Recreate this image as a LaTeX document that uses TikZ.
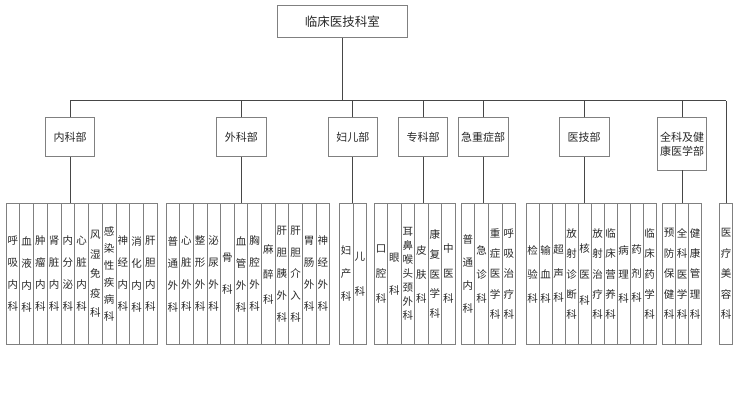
\documentclass[tikz,border=0pt]{standalone}
\usepackage{fontspec}
\newfontfamily\cjk{Noto Sans CJK SC}
\ExplSyntaxOn
\seq_new:N \l_my_chars_seq
\cs_new_protected:Npn \my_vstack:n #1
  {
    \seq_clear:N \l_my_chars_seq
    \tl_map_inline:nn {#1} { \seq_put_right:Nn \l_my_chars_seq {##1} }
    \seq_use:Nn \l_my_chars_seq {\\}
  }
\NewDocumentCommand \vstack {m} { \exp_args:No \my_vstack:n {#1} }
\ExplSyntaxOff
\definecolor{boxline}{RGB}{128,128,128}
\definecolor{conline}{RGB}{70,70,70}
\definecolor{txt}{RGB}{40,40,40}
\tikzset{
  box/.style={draw=boxline, line width=0.7pt, fill=white, inner sep=0pt, text=txt, align=center},
  topbox/.style={box, minimum width=130.7, minimum height=31.6, font=\cjk\fontsize{12.5}{15}\selectfont},
  deptbox/.style={box, minimum width=49.3, minimum height=39, font=\cjk\fontsize{11}{14}\selectfont},
  colbox/.style={box, minimum height=141},
  conn/.style={draw=conline, line width=0.7pt},
}
\begin{document}
\begin{tikzpicture}[x=1pt, y=-1pt]
\useasboundingbox (0,0) rectangle (737,419);

% top
\node[topbox] (top) at (342.35,21.5) {临床医技科室};

% level 2
\node[deptbox] (nk) at (70,137.2) {内科部};
\node[deptbox] (wk) at (241.3,137.2) {外科部};
\node[deptbox] (fe) at (352.8,137.2) {妇儿部};
\node[deptbox] (zk) at (423,137.2) {专科部};
\node[deptbox] (jz) at (483.2,137.2) {急重症部};
\node[deptbox] (yj) at (584.2,137.2) {医技部};
\node[deptbox, minimum height=52.3] (qk) at (682,143.85) {全科及健\\康医学部};

% level 3 columns
\foreach \t/\s [count=\i] in {呼吸内科/22,血液内科/22,肿瘤内科/22,肾脏内科/22,内分泌科/22,心脏内科/22,风湿免疫科/19.6,感染性疾病科/17,神经内科/22,消化内科/22,肝胆内科/22}
  \node[colbox, minimum width=13.75, font=\cjk\fontsize{10.5}{\s}\selectfont] (a\i) at ({6+(\i-0.5)*13.75},274) {\vstack{\t}};
\foreach \t/\s [count=\i] in {普通外科/22,心脏外科/22,整形外科/22,泌尿外科/22,骨科/32,血管外科/22,胸腔外科/22,麻醉科/25,肝胆胰外科/21.7,肝胆介入科/21.7,胃肠外科/22,神经外科/22}
  \node[colbox, minimum width=13.64, font=\cjk\fontsize{10.5}{\s}\selectfont] (b\i) at ({166+(\i-0.5)*13.64},274) {\vstack{\t}};
\foreach \t/\s [count=\i] in {妇产科/23,儿科/35}
  \node[colbox, minimum width=13.7, font=\cjk\fontsize{10.5}{\s}\selectfont] (c\i) at ({339.3+(\i-0.5)*13.7},274) {\vstack{\t}};
\foreach \t/\s [count=\i] in {口腔科/25,眼科/33,耳鼻喉头颈外科/14,皮肤科/24,康复医学科/19.6,中医科/25}
  \node[colbox, minimum width=13.45, font=\cjk\fontsize{10.5}{\s}\selectfont] (d\i) at ({374.3+(\i-0.5)*13.45},274) {\vstack{\t}};
\foreach \t/\s [count=\i] in {普通内科/22.8,急诊科/24,重症医学科/20.4,呼吸治疗科/20.4}
  \node[colbox, minimum width=13.67, font=\cjk\fontsize{10.5}{\s}\selectfont] (e\i) at ({461+(\i-0.5)*13.67},274) {\vstack{\t}};
\foreach \t/\s [count=\i] in {检验科/24,输血科/24,超声科/24,放射诊断科/20.4,核医科/26,放射治疗科/20.4,临床营养科/20.4,病理科/24,药剂科/24,临床药学科/20.4}
  \node[colbox, minimum width=13, font=\cjk\fontsize{10.5}{\s}\selectfont] (f\i) at ({526+(\i-0.5)*13},274) {\vstack{\t}};
\foreach \t/\s [count=\i] in {预防保健科/20.4,全科医学科/20.4,健康管理科/20.4}
  \node[colbox, minimum width=13, font=\cjk\fontsize{10.5}{\s}\selectfont] (g\i) at ({662.7+(\i-0.5)*13},274) {\vstack{\t}};
\node[colbox, minimum width=13.4, font=\cjk\fontsize{10.5}{20.4}\selectfont] (mr) at (726,274) {\vstack{医疗美容科}};

% group tops
\coordinate (ga) at (70,203.5);
\coordinate (gb) at (241.3,203.5);
\coordinate (gc) at (352.8,203.5);
\coordinate (gd) at (423,203.5);
\coordinate (ge) at (483.2,203.5);
\coordinate (gf) at (584.2,203.5);
\coordinate (gg) at (682,203.5);

% bus
\coordinate (busL) at (70,100.7);
\coordinate (busR) at (726,100.7);
\draw[conn] (busL) -- (busR);
\draw[conn] (top.south) -- (top.south |- busL);
\foreach \n/\g in {nk/ga,wk/gb,fe/gc,zk/gd,jz/ge,yj/gf,qk/gg} {
  \draw[conn] (\n.north) -- (\n.north |- busL);
  \draw[conn] (\n.south) -- (\g);
}
\draw[conn] (mr.north) -- (mr.north |- busR);
\end{tikzpicture}
\end{document}
